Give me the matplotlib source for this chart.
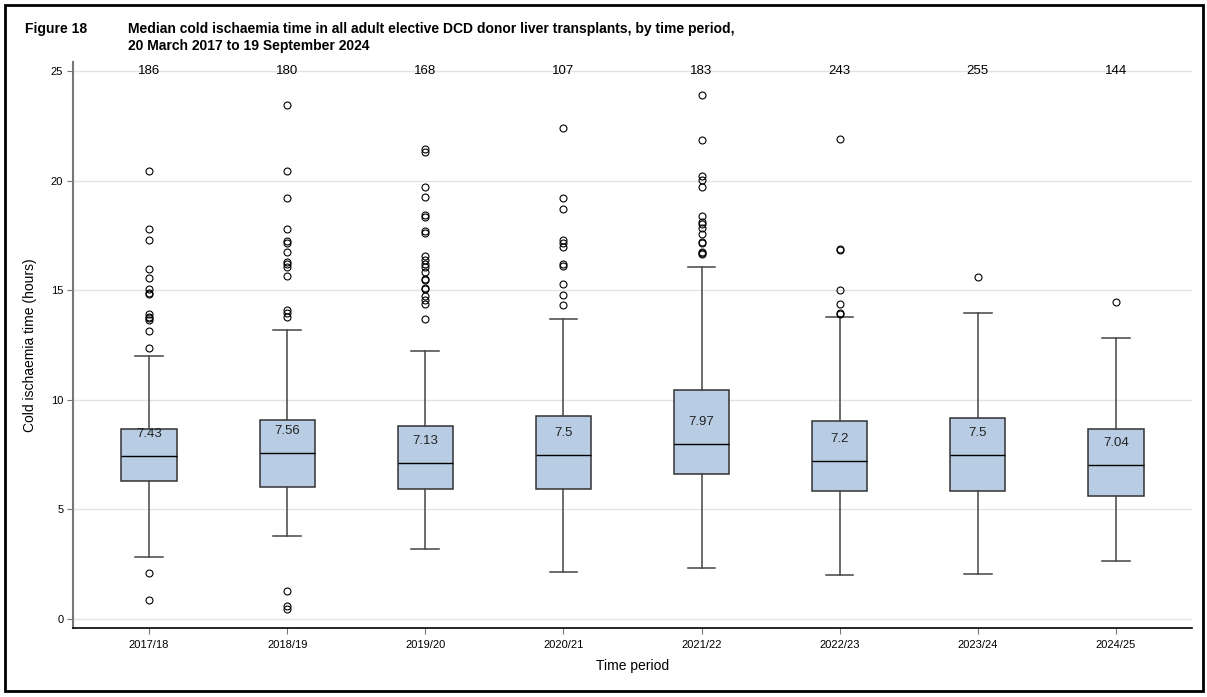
import matplotlib
matplotlib.use("Agg")
import matplotlib.pyplot as plt
from matplotlib.patches import Rectangle

plt.rcParams['font.family'] = ['Liberation Sans', 'DejaVu Sans']

# data (hours)
periods = ['2017/18', '2018/19', '2019/20', '2020/21', '2021/22', '2022/23', '2023/24', '2024/25']
counts = [186, 180, 168, 107, 183, 243, 255, 144]
medians = [7.43, 7.56, 7.13, 7.5, 7.97, 7.2, 7.5, 7.04]
q1 = [6.31, 6.01, 5.94, 5.94, 6.61, 5.85, 5.85, 5.61]
q3 = [8.65, 9.09, 8.82, 9.25, 10.45, 9.03, 9.17, 8.68]
whis_lo = [2.83, 3.79, 3.19, 2.16, 2.33, 1.99, 2.05, 2.63]
whis_hi = [12.0, 13.2, 12.24, 13.69, 16.07, 13.78, 13.97, 12.83]
outliers = [
    [0.87, 2.08, 12.38, 13.12, 13.64, 13.73, 13.79, 13.91, 14.81, 14.89, 15.04, 15.56, 15.97, 17.29, 17.81, 20.44],
    [0.45, 0.6, 1.29, 13.79, 13.97, 14.1, 15.66, 16.04, 16.18, 16.29, 16.76, 17.14, 17.26, 17.79, 19.22, 20.44, 23.45],
    [13.69, 14.37, 14.55, 14.74, 15.04, 15.1, 15.47, 15.51, 15.83, 16.04, 16.2, 16.38, 16.56, 17.6, 17.69, 18.33,
     18.42, 19.27, 19.72, 21.3, 21.45],
    [14.31, 14.78, 15.27, 16.1, 16.18, 16.98, 17.17, 17.29, 18.69, 19.19, 22.4],
    [16.64, 16.68, 16.73, 17.15, 17.19, 17.56, 17.82, 18.0, 18.13, 18.39, 19.72, 20.03, 20.21, 21.85, 23.9],
    [13.91, 13.96, 14.37, 14.99, 16.82, 16.87, 21.9],
    [15.59],
    [14.48],
]

stats = []
for i in range(len(periods)):
    stats.append(dict(med=medians[i], q1=q1[i], q3=q3[i], whislo=whis_lo[i], whishi=whis_hi[i],
                      fliers=outliers[i], label=periods[i]))

fig = plt.figure(figsize=(12.07, 6.97), dpi=100)
ax = fig.add_axes([0.0605, 0.099, 0.927, 0.812])

pos = list(range(1, len(periods) + 1))
ax.bxp(stats, positions=pos, widths=0.4, patch_artist=True,
       boxprops=dict(facecolor='#b8cce4', edgecolor='#333333', linewidth=1.1),
       medianprops=dict(color='black', linewidth=1.0),
       whiskerprops=dict(color='#444444', linewidth=1.1),
       capprops=dict(color='#444444', linewidth=1.1),
       flierprops=dict(marker='o', markerfacecolor='none', markeredgecolor='black',
                       markersize=5, markeredgewidth=0.8))

for p, m, n in zip(pos, medians, counts):
    ax.text(p, m + 1.0, str(m), ha='center', va='center', fontsize=9.5, color='#222222')
    ax.text(p, 25, str(n), ha='center', va='center', fontsize=9.5, color='black')

ax.set_xlim(0.45, 8.55)
ax.set_ylim(-0.41, 25.41)
ax.set_yticks([0, 5, 10, 15, 20, 25])
ax.set_xticks(pos)
ax.set_xticklabels(periods)
ax.yaxis.grid(True, color='#e3e3e3', linewidth=1)
ax.set_axisbelow(True)
for s in ['top', 'right']:
    ax.spines[s].set_visible(False)
ax.spines['left'].set_color('#777777')
ax.spines['left'].set_linewidth(1.5)
ax.spines['bottom'].set_color('black')
ax.spines['bottom'].set_linewidth(1.2)
ax.tick_params(axis='y', labelsize=8, color='#777777', length=4, pad=3)
ax.tick_params(axis='x', labelsize=8, color='#777777', length=4, pad=5)
ax.set_xlabel('Time period', fontsize=10, labelpad=6)
ax.set_ylabel('Cold ischaemia time (hours)', fontsize=10, labelpad=10)

fig.text(25 / 1207, 1 - 29 / 697, 'Figure 18', fontsize=10, fontweight='bold', va='center')
fig.text(128 / 1207, 1 - 29 / 697,
         'Median cold ischaemia time in all adult elective DCD donor liver transplants, by time period,',
         fontsize=10, fontweight='bold', va='center')
fig.text(128 / 1207, 1 - 46 / 697, '20 March 2017 to 19 September 2024',
         fontsize=10, fontweight='bold', va='center')

fig.patches.append(Rectangle((5 / 1207, 6 / 697), 1198 / 1207, 686 / 697, transform=fig.transFigure,
                             fill=False, edgecolor='black', linewidth=2))

fig.savefig('out.png', dpi=100)
